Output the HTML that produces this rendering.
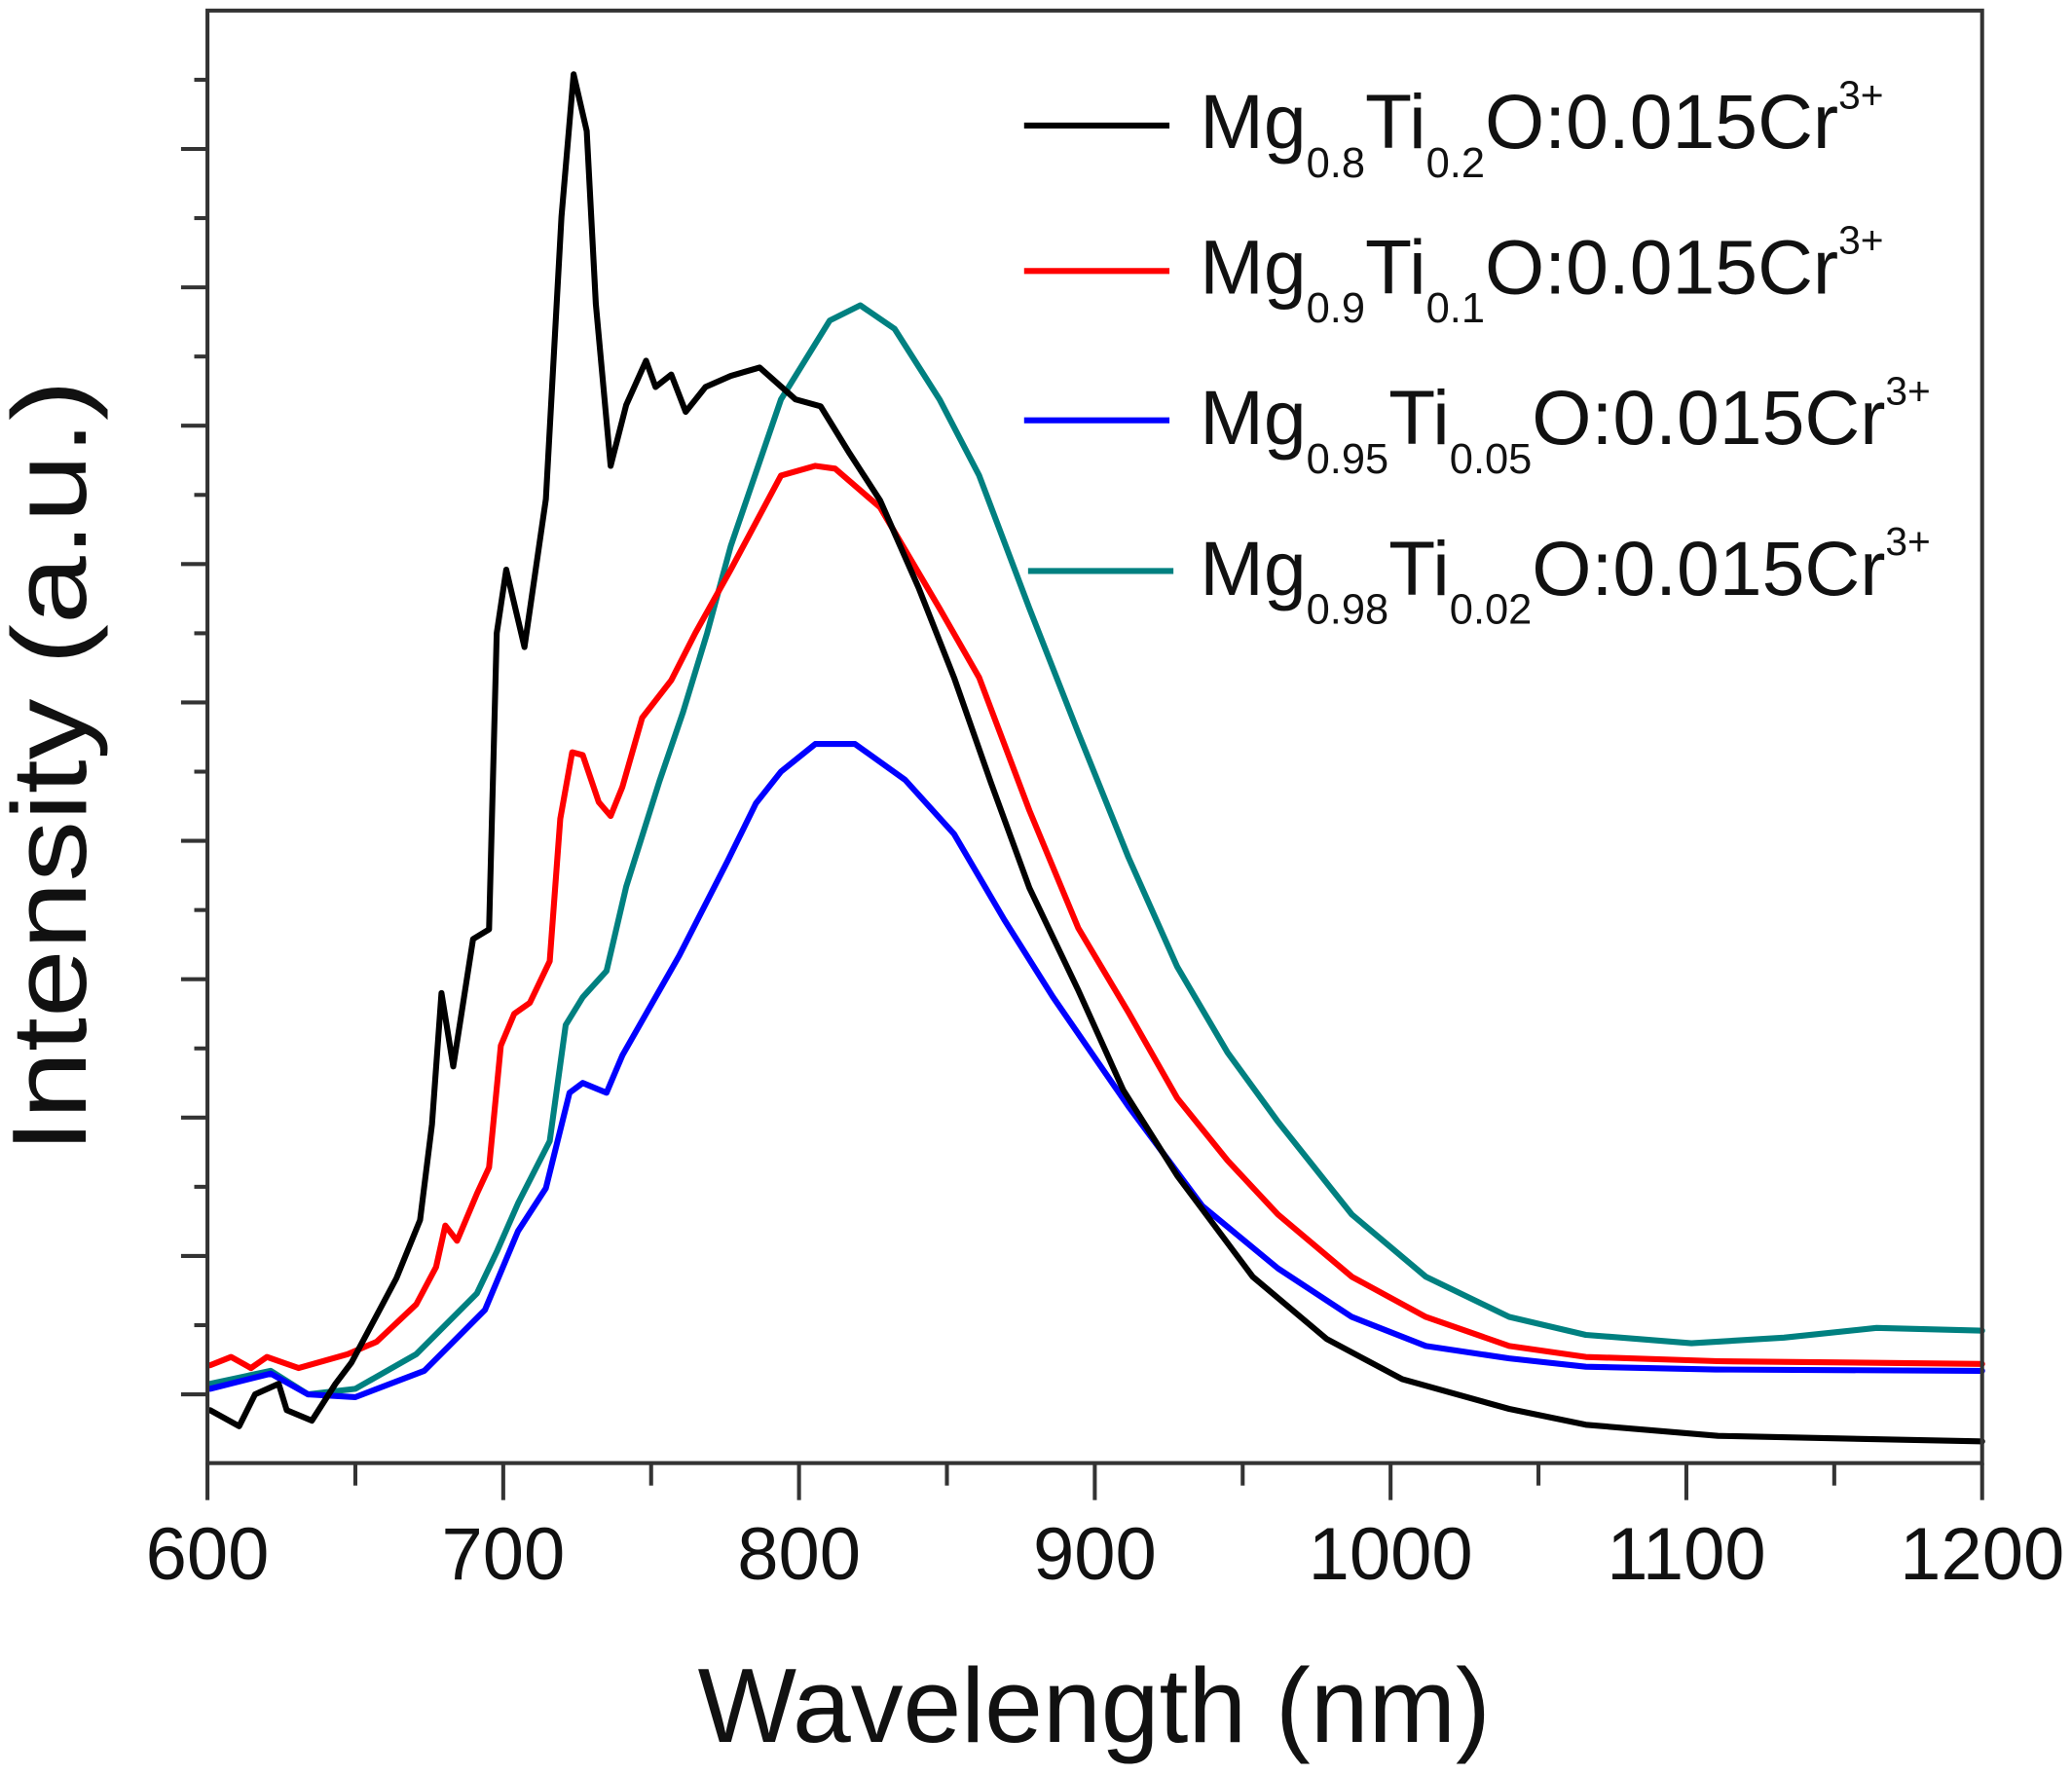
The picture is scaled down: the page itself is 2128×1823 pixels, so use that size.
<!DOCTYPE html>
<html><head><meta charset="utf-8"><style>html,body{margin:0;padding:0;background:#fff}svg{display:block}</style></head>
<body>
<svg id="chart" xmlns="http://www.w3.org/2000/svg" width="2128" height="1823" viewBox="0 0 1568 1343" preserveAspectRatio="none" font-family="'Liberation Sans', Arial, sans-serif">
<rect x="0" y="0" width="1568" height="1343" fill="#fff"/>
<g id="series"></g>
<g id="axes"></g>
<g font-size="58" fill="#111">
  <line x1="775" y1="95" x2="885" y2="95" stroke="#000" stroke-width="4.5"/>
  <text x="908" y="112">Mg<tspan font-size="32" dy="22">0.8</tspan><tspan dy="-22">Ti</tspan><tspan font-size="32" dy="22">0.2</tspan><tspan dy="-22">O:0.015Cr</tspan><tspan font-size="30" dy="-30">3+</tspan></text>
  <line x1="775" y1="205" x2="885" y2="205" stroke="#ff0000" stroke-width="4.5"/>
  <text x="908" y="222">Mg<tspan font-size="32" dy="22">0.9</tspan><tspan dy="-22">Ti</tspan><tspan font-size="32" dy="22">0.1</tspan><tspan dy="-22">O:0.015Cr</tspan><tspan font-size="30" dy="-30">3+</tspan></text>
  <line x1="775" y1="318" x2="885" y2="318" stroke="#0000ff" stroke-width="4.5"/>
  <text x="908" y="336">Mg<tspan font-size="32" dy="22">0.95</tspan><tspan dy="-22">Ti</tspan><tspan font-size="32" dy="22">0.05</tspan><tspan dy="-22">O:0.015Cr</tspan><tspan font-size="30" dy="-30">3+</tspan></text>
  <line x1="778" y1="432" x2="888" y2="432" stroke="#008080" stroke-width="4.5"/>
  <text x="908" y="450">Mg<tspan font-size="32" dy="22">0.98</tspan><tspan dy="-22">Ti</tspan><tspan font-size="32" dy="22">0.02</tspan><tspan dy="-22">O:0.015Cr</tspan><tspan font-size="30" dy="-30">3+</tspan></text>
</g>
<text x="828" y="1318" font-size="80" text-anchor="middle" textLength="600" lengthAdjust="spacingAndGlyphs" fill="#111">Wavelength (nm)</text>
<text transform="translate(65,580) rotate(-90)" font-size="80" text-anchor="middle" textLength="585" lengthAdjust="spacingAndGlyphs" fill="#111">Intensity (a.u.)</text>
</svg>
<script>
const xTicks = [600, 700, 800, 900, 1000, 1100, 1200];
const xTickLabels = ["600", "700", "800", "900", "1000", "1100", "1200"];
const blackWl = [600.9,610.7,616.1,624.1,626.8,635.3,643.3,648.7,657.2,663.9,671.9,675.9,679.1,683.1,689.8,695.2,697.8,701.0,707.2,714.4,719.7,723.8,728.2,731.3,736.3,741.6,748.3,751.5,756.8,761.7,768.4,776.9,786.7,798.8,807.3,817.1,827.4,840.4,852.4,864.9,877.9,894.4,909.6,927.9,953.4,978.4,1003.9,1040.1,1066,1110.7,1155.3,1200];
const blackI = [-1.15,-2.3,0,0.76,-1.15,-1.9,0.76,2.3,5.7,8.4,12.6,19.5,29.0,23.7,32.9,33.6,55.0,59.6,54.0,64.7,85.1,95.4,91.3,78.8,67.1,71.5,74.7,72.8,73.7,71.0,72.8,73.6,74.2,71.9,71.4,68.0,64.6,58.3,51.8,44.2,36.6,29.2,22.0,15.8,8.5,4.0,1.1,-1.05,-2.2,-3.0,-3.2,-3.4];
const redWl = [600.9,608.0,614.7,620.1,630.8,647.4,657.2,670.6,677.3,680.4,684.4,691.1,695.2,699.2,703.7,709.0,715.7,719.3,723.3,726.9,732.3,736.3,740.3,747.0,756.8,764.9,776.9,793.9,805.5,812.2,827.4,847.5,860.9,877.9,894.4,911.4,927.9,944.9,961.9,986.9,1011.9,1040.1,1066,1110.7,1200];
const redI = [2.1,2.7,1.9,2.7,1.9,2.9,3.8,6.5,9.2,12.2,11.1,14.5,16.4,25.2,27.5,28.3,31.3,41.6,46.4,46.2,42.8,41.8,43.9,48.9,51.6,55.0,59.6,66.4,67.1,66.9,64.1,56.8,51.8,42.2,33.7,27.6,21.4,16.9,13.0,8.5,5.6,3.5,2.7,2.4,2.2];
const blueWl = [600.9,621.4,634.0,650.0,673.3,693.8,705.0,714.4,722.4,726.9,734.9,740.3,748.3,759.5,776.0,785.4,793.9,805.5,818.9,835.9,852.4,869.4,885.9,911.4,936.4,961.9,986.9,1011.9,1040.1,1066,1110,1200];
const blueI = [0.4,1.5,0,-0.2,1.7,6.1,11.8,14.9,21.8,22.5,21.8,24.5,27.5,31.7,38.6,42.7,45.0,47.0,47.0,44.4,40.5,34.3,28.7,20.8,13.6,9.1,5.6,3.5,2.6,2.0,1.8,1.7];
const tealWl = [600.9,621.4,634.0,650.0,670.6,691.1,697.8,705.0,715.7,721.1,726.9,734.9,741.6,752.8,760.8,768.9,776.9,793.9,810.4,820.7,832.3,847.5,860.9,877.9,894.4,911.4,927.9,944.9,961.9,986.9,1011.9,1040.1,1066,1101.7,1133,1164.3,1200];
const tealI = [0.76,1.7,0,0.4,2.9,7.3,10.3,13.8,18.3,26.7,28.7,30.6,36.7,44.3,49.3,55.0,61.3,71.9,77.6,78.7,77.0,71.9,66.4,56.8,47.8,38.8,30.9,24.7,19.7,13.0,8.5,5.6,4.3,3.7,4.1,4.8,4.6];

const NS = "http://www.w3.org/2000/svg";
const X0 = 157, X1 = 1500, YB = 1107, YT = 8;
function sx(w) { return X0 + (w - 600) * (X1 - X0) / 600; }
function sy(v) { return 1055 - v * 10.47; }

const axes = document.getElementById('axes');
const series = document.getElementById('series');
function mk(tag, attrs, parent) {
  const e = document.createElementNS(NS, tag);
  for (const k in attrs) e.setAttribute(k, attrs[k]);
  parent.appendChild(e);
  return e;
}
const frame = mk('rect', {x: X0, y: YT, width: X1 - X0, height: YB - YT, fill: 'none', stroke: '#333', 'stroke-width': 3}, axes);



for (let w = 600; w <= 1200; w += 50) {
  const major = (w % 100 === 0);
  const t = mk('line', {x1: sx(w), x2: sx(w), y1: YB, y2: YB + (major ? 28 : 17), stroke: '#333', 'stroke-width': 3}, axes);
  
  
}
xTicks.forEach((w, i) => {
  const t = mk('text', {x: sx(w), y: 1195, 'font-size': 56, 'text-anchor': 'middle', fill: '#111'}, axes);
  t.textContent = xTickLabels[i];
  
  
});
for (let k = 0; k <= 19; k++) {
  const v = k * 5;
  const y = sy(v);
  if (y < YT + 5) continue;
  const major = (k % 2 === 0);
  const t = mk('line', {x1: X0 - (major ? 20 : 10), x2: X0, y1: y, y2: y, stroke: '#333', 'stroke-width': 3}, axes);
  
  
}

function drawSeries(wl, vals, color, name) {
  let d = '';
  wl.forEach((w, i) => { d += (i ? 'L' : 'M') + sx(w).toFixed(1) + ',' + sy(vals[i]).toFixed(1); });
  const p = mk('path', {d: d, fill: 'none', stroke: color, 'stroke-width': 4.5, 'stroke-linejoin': 'round', 'stroke-linecap': 'round'}, series);
  
  
}
drawSeries(tealWl, tealI, '#008080', 'series-mg098');
drawSeries(blueWl, blueI, '#0000ff', 'series-mg095');
drawSeries(redWl, redI, '#ff0000', 'series-mg09');
drawSeries(blackWl, blackI, '#000000', 'series-mg08');
</script>
</body></html>
